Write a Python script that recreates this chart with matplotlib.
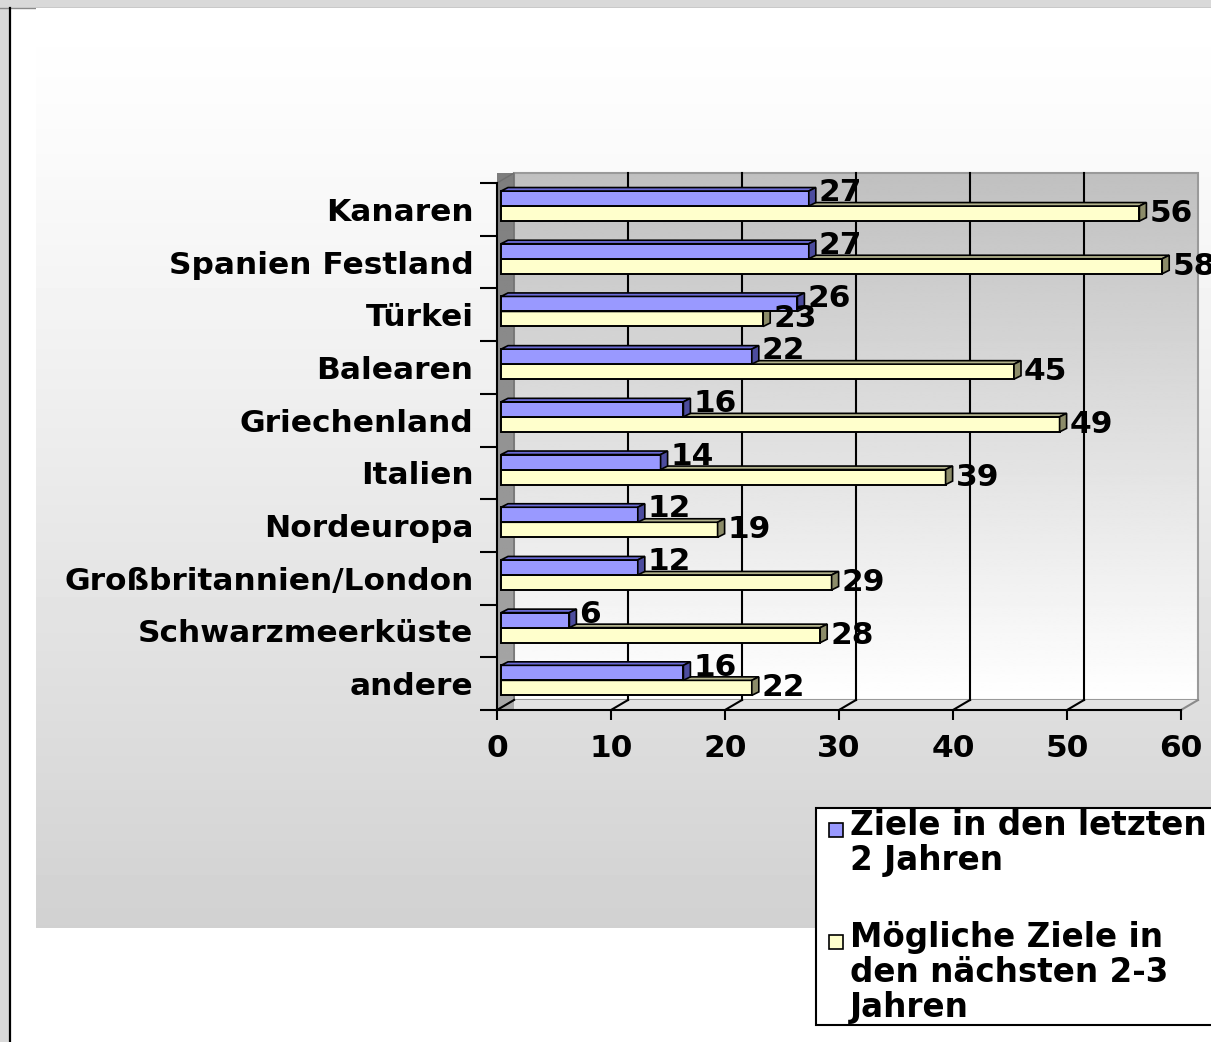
import numpy as np
import matplotlib.pyplot as plt
from matplotlib.patches import Polygon, Rectangle
from matplotlib.lines import Line2D

plt.rcParams['font.family'] = ['DejaVu Sans']
plt.rcParams['font.weight'] = 'bold'

regions = ["Kanaren", "Spanien Festland", "Türkei", "Balearen", "Griechenland",
           "Italien", "Nordeuropa", "Großbritannien/London", "Schwarzmeerküste", "andere"]
last_two = [27, 27, 26, 22, 16, 14, 12, 12, 6, 16]
next_years = [56, 58, 23, 45, 49, 39, 19, 29, 28, 22]
series_names = ["Ziele in den letzten\n2 Jahren", "Mögliche Ziele in\nden nächsten 2-3\nJahren"]
x_ticks = [0, 10, 20, 30, 40, 50, 60]

blue, blue_top, blue_side = '#9999ff', '#6b6bd6', '#4c4c9e'
yellow, yellow_top, yellow_side = '#ffffcc', '#b3b38c', '#8c8c69'

W, H = 1211, 1042
fig = plt.figure(figsize=(W / 100, H / 100), dpi=100)
fig.patch.set_facecolor('white')


def fx(px):
    return px / W


def fy(py):
    return 1 - py / H


# outer frame strips
fig.add_artist(Rectangle((0, fy(7)), 1, 7 / H, transform=fig.transFigure, color='#d9d9d9', zorder=-5))
fig.add_artist(Rectangle((0, 0), fx(8), 1, transform=fig.transFigure, color='#d9d9d9', zorder=-5))
fig.add_artist(Line2D([0, 1], [fy(7.5)] * 2, transform=fig.transFigure, color='#8a8a8a', lw=1, zorder=-4))
fig.add_artist(Line2D([fx(9.5)] * 2, [0, fy(7.5)], transform=fig.transFigure, color='black', lw=1.6, zorder=-4))

# chart area gradient (white at top, light grey at bottom)
bg = fig.add_axes([fx(36), fy(928), fx(W - 36), (928 - 8) / H])
bg.set_zorder(0)
t = np.linspace(0, 1, 256) ** 1.2
bg.imshow((1 - 0.18 * t)[:, None], aspect='auto', cmap='gray', vmin=0, vmax=1,
          extent=(0, 1, 0, 1), interpolation='bilinear')
bg.axis('off')

ax = fig.add_axes([fx(497), fy(710), fx(684), 527 / H])
ax.set_zorder(2)
ax.patch.set_alpha(0)

n = len(regions)
ppx = 684 / 60
ppy = 527 / n
ox, oy = 17 / ppx, 10 / ppy          # depth of the walls
dxb, dyb = 7 / ppx, 3.5 / ppy        # depth of the bars
x0 = 4 / ppx
ytop, ybot = -0.5, n - 0.5

# back wall
wall = np.linspace(0.753, 1.0, 256)[:, None]
ax.imshow(wall, extent=(ox, 60 + ox, ybot - oy, ytop - oy), aspect='auto', cmap='gray',
          vmin=0, vmax=1, clip_on=False, zorder=0, interpolation='bilinear')
ax.add_patch(Rectangle((ox, ytop - oy), 60, n, fill=False, ec='#9a9a9a', lw=1.5,
                       clip_on=False, zorder=1))

# left side wall
side = Polygon([(0, ytop), (ox, ytop - oy), (ox, ybot - oy), (0, ybot)], closed=True,
               fc='none', ec='#6e6e6e', lw=1, clip_on=False, zorder=1.2)
ax.add_patch(side)
side_img = ax.imshow(np.linspace(0.49, 0.66, 256)[:, None], extent=(0, ox, ybot, ytop - oy),
                     aspect='auto', cmap='gray', vmin=0, vmax=1, clip_on=False, zorder=1.1)
side_img.set_clip_path(side)

# floor
ax.add_patch(Polygon([(0, ybot), (60, ybot), (60 + ox, ybot - oy), (ox, ybot - oy)], closed=True,
                     fc='#e3e3e3', ec='none', clip_on=False, zorder=1))
for v in x_ticks:
    ax.plot([v, v + ox], [ybot, ybot - oy], color='black' if v < 60 else '#8a8a8a',
            lw=1.5, clip_on=False, zorder=1.5)
for v in x_ticks[1:-1]:
    ax.plot([v + ox] * 2, [ybot - oy, ytop - oy], color='black', lw=1.5, clip_on=False, zorder=1.5)

ax.set_xlim(0, 60)
ax.set_ylim(ybot, ytop)

h = 0.285
pos = np.arange(n)
y_blue = pos - 0.205
y_yel = pos + 0.08


def bars3d(ys, vals, front, top, side_c, z):
    cont = ax.barh(ys, vals, height=h, left=x0, color=front, edgecolor='black', lw=1.4, zorder=z)
    for yc, v in zip(ys, vals):
        yt, yb = yc - h / 2, yc + h / 2
        xe = x0 + v
        ax.add_patch(Polygon([(x0, yt), (xe, yt), (xe + dxb, yt - dyb), (x0 + dxb, yt - dyb)],
                             closed=True, fc=top, ec='black', lw=1.2, zorder=z, clip_on=False))
        ax.add_patch(Polygon([(xe, yt), (xe + dxb, yt - dyb), (xe + dxb, yb - dyb), (xe, yb)],
                             closed=True, fc=side_c, ec='black', lw=1.2, zorder=z, clip_on=False))
    return cont


bars_y = bars3d(y_yel, next_years, yellow, yellow_top, yellow_side, 3)
bars_b = bars3d(y_blue, last_two, blue, blue_top, blue_side, 4)

lab_pad = 10 / ppx
for yc, v in zip(y_blue, last_two):
    ax.text(x0 + v + lab_pad, yc - 0.11, str(v), ha='left', va='center', fontsize=22.5,
            zorder=6, clip_on=False)
for yc, v in zip(y_yel, next_years):
    ax.text(x0 + v + lab_pad, yc, str(v), ha='left', va='center', fontsize=22.5,
            zorder=6, clip_on=False)

# axes and ticks
for s in ['top', 'right']:
    ax.spines[s].set_visible(False)
for s in ['left', 'bottom']:
    ax.spines[s].set_linewidth(1.5)
    ax.spines[s].set_zorder(2)
ax.set_xticks(x_ticks)
ax.tick_params(axis='x', length=7.2, width=1.5, pad=10, labelsize=22.5)
ax.set_yticks(pos)
ax.set_yticklabels(regions)
ax.set_yticks(np.arange(-0.5, n, 1), minor=True)
ax.tick_params(axis='y', which='major', length=0, pad=17, labelsize=22.5)
ax.tick_params(axis='y', which='minor', length=12, width=1.5)

# legend box, drawn by hand so the keys sit on the first text line
fig.add_artist(Rectangle((fx(816), fy(1025)), fx(1260 - 816), (1025 - 808) / H,
                         transform=fig.transFigure, fc='white', ec='black', lw=1.5, zorder=8))
for bars, label, base in zip([bars_b, bars_y], series_names, [835, 947]):
    fig.add_artist(Rectangle((fx(829), fy(base + 2)), fx(14), 14 / H, transform=fig.transFigure,
                             fc=bars.patches[0].get_facecolor(), ec='black', lw=1.2, zorder=9))
    for k, line in enumerate(label.split('\n')):
        fig.text(fx(850), fy(base + 35 * k), line, fontsize=23.5, ha='left', va='baseline',
                 zorder=9)

fig.savefig('out.png', dpi=100)
